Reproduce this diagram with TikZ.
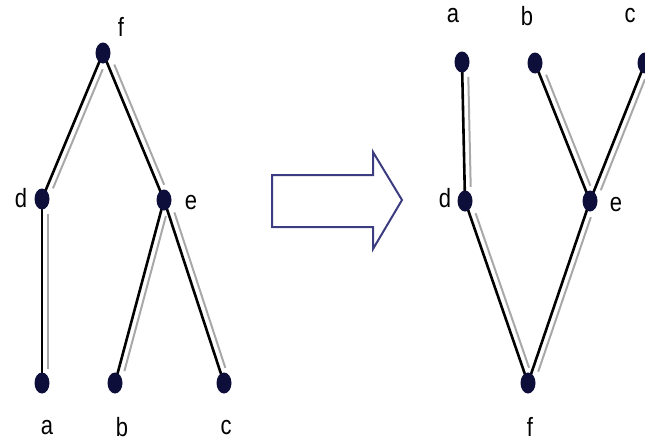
\documentclass[tikz,border=0pt]{standalone}
\usepackage{fontspec}
\setmainfont{Liberation Sans}
\usetikzlibrary{calc,shapes.geometric}
\definecolor{dotc}{HTML}{0E0E3A}
\definecolor{arrc}{HTML}{3C3C80}
\definecolor{shadow}{HTML}{A8A8A8}
\tikzset{
  dot/.style={ellipse, fill=dotc, minimum width=15pt, minimum height=21pt, inner sep=0pt},
  lbl/.style={font=\fontsize{22}{24}\selectfont, inner sep=0pt, yscale=1.2, transform shape},
  blackline/.style={line width=2.6pt, black},
  grayline/.style={line width=2pt, shadow, shorten <=15pt, shorten >=14pt},
  bigarrow/.style={draw=arrc, line width=2pt, fill=white, line join=miter}
}
\newcommand\twinedge[2]{%
  \draw[grayline] ($(#1.center)!6pt!90:(#2.center)$) -- ($(#2.center)!6pt!-90:(#1.center)$);
  \draw[blackline] (#1.center) -- (#2.center);}
\begin{document}
\begin{tikzpicture}[x=1pt,y=-1pt]
\useasboundingbox (0,0) rectangle (645,442);
% left tree
\coordinate (Lf) at (103,53);
\coordinate (Ld) at (42,199);
\coordinate (Le) at (164,200);
\coordinate (La) at (42,383);
\coordinate (Lb) at (115,383);
\coordinate (Lc) at (224,383);
\twinedge{Lf}{Ld}
\twinedge{Lf}{Le}
\twinedge{Ld}{La}
\twinedge{Le}{Lb}
\twinedge{Le}{Lc}
\node[dot] (nLf) at (Lf) {};
\node[dot] (nLd) at (Ld) {};
\node[dot] (nLe) at (Le) {};
\node[dot] (nLa) at (La) {};
\node[dot] (nLb) at (Lb) {};
\node[dot] (nLc) at (Lc) {};
\node[lbl] (tLf) at (121,27) {f};
\node[lbl] (tLd) at (21,198) {d};
\node[lbl] (tLe) at (191,203) {e};
\node[lbl] (tLa) at (47,428) {a};
\node[lbl] (tLb) at (122,427) {b};
\node[lbl] (tLc) at (226,428) {c};
% arrow
\draw[bigarrow] (272,175) -- (373,175) -- (373,152) -- (402,200) -- (373,249) -- (373,227) -- (272,227) -- cycle;
% right tree
\coordinate (Ra) at (462,62);
\coordinate (Rb) at (535,63);
\coordinate (Rc) at (645,63);
\coordinate (Rd) at (465,201);
\coordinate (Re) at (590,201);
\coordinate (Rf) at (528,383);
\twinedge{Ra}{Rd}
\twinedge{Rb}{Re}
\twinedge{Rc}{Re}
\twinedge{Rd}{Rf}
\twinedge{Re}{Rf}
\node[dot] (nRa) at (Ra) {};
\node[dot] (nRb) at (Rb) {};
\node[dot] (nRc) at (Rc) {};
\node[dot] (nRd) at (Rd) {};
\node[dot] (nRe) at (Re) {};
\node[dot] (nRf) at (Rf) {};
\node[lbl] (tRa) at (453,16) {a};
\node[lbl] (tRb) at (527,16) {b};
\node[lbl] (tRc) at (630,16) {c};
\node[lbl] (tRd) at (445,198) {d};
\node[lbl] (tRe) at (616,205) {e};
\node[lbl] (tRf) at (530,427) {f};
\end{tikzpicture}
\end{document}
